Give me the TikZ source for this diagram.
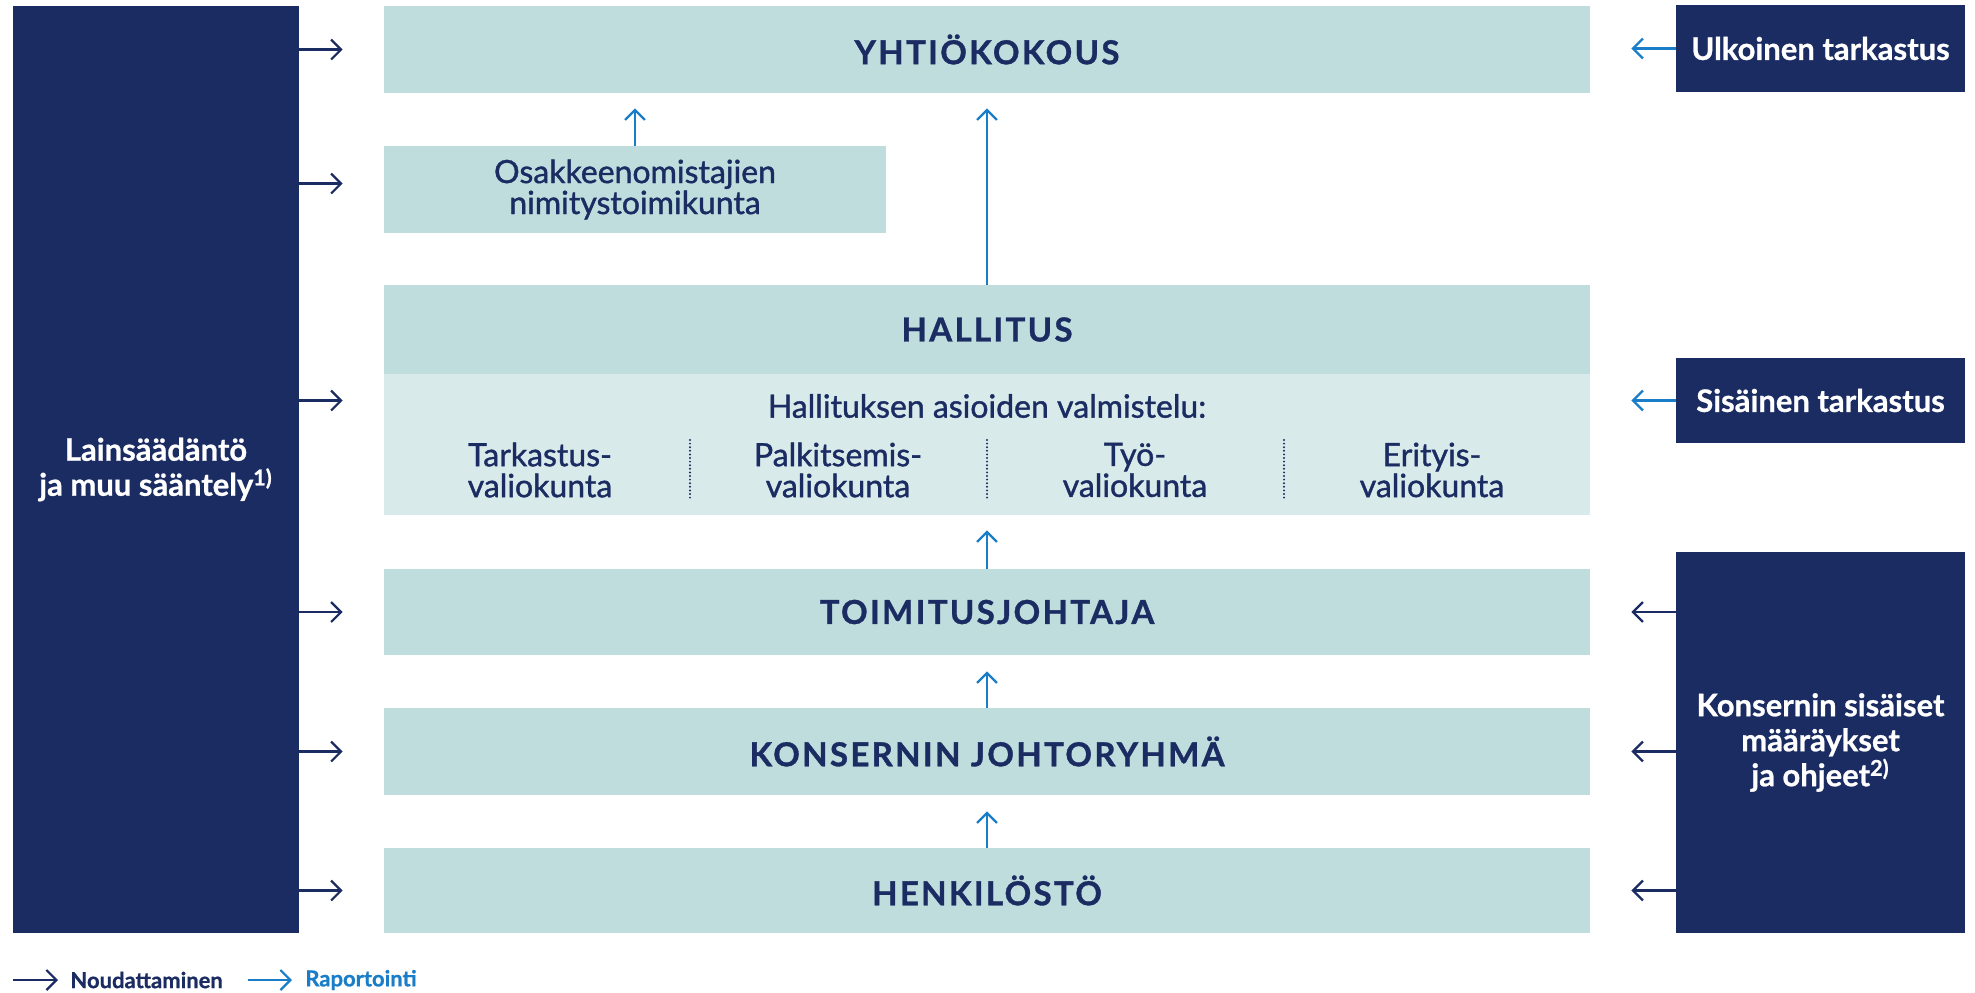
\documentclass[tikz,border=0pt]{standalone}
\usepackage{fontspec}
\setmainfont{Lato}[BoldFeatures={FakeBold=0.8}]
\newfontfamily\titlefont[LetterSpace=7, BoldFeatures={FakeBold=1}]{Lato}
\newfontfamily\medfont[FakeBold=1.2]{Lato}
\usetikzlibrary{arrows.meta}

\definecolor{navy}{HTML}{1B2C62}
\definecolor{vaalea}{HTML}{BFDDDD}
\definecolor{vaaleampi}{HTML}{D8EAEA}
\definecolor{raportti}{HTML}{1A7DC8}

\tikzset{
  elin/.style={fill=vaalea, text=navy, inner sep=0pt, minimum width=603pt,
    font=\titlefont\bfseries\fontsize{16.5}{18}\selectfont},
  ohje/.style={fill=navy, text=white, inner sep=0pt, align=center,
    font=\bfseries\fontsize{15.5}{17.5}\selectfont},
  teksti/.style={text=navy, inner sep=0pt, align=center,
    font=\medfont\fontsize{16}{15.5}\selectfont},
  noudata/.style={draw=navy, line width=1.1pt, -{Straight Barb[length=5pt,width=10pt]}},
  raportoi/.style={draw=raportti, line width=1.1pt, -{Straight Barb[length=5pt,width=10pt]}},
}

\begin{document}
\begin{tikzpicture}[x=0.5pt,y=-0.5pt]
\useasboundingbox (0,0) rectangle (1975,992);

% toimielimet
\node[elin, minimum height=43.5pt] (yk) at (987,49.5) {YHTIÖKOKOUS};
\node[elin, teksti, minimum width=251pt, minimum height=43.5pt] (nim) at (635,189.5)
  {Osakkeenomistajien\\nimitystoimikunta};
\node[elin, minimum height=44.5pt] (hal) at (987,329.5) {HALLITUS};
\node[fill=vaaleampi, inner sep=0pt, minimum width=603pt, minimum height=70.5pt] (valm) at (987,444.5) {};
\node[teksti] (valmt) at (987,406) {Hallituksen asioiden valmistelu:};
\node[teksti] (vk1) at (540,470) {Tarkastus-\\valiokunta};
\node[teksti] (vk2) at (838,470) {Palkitsemis-\\valiokunta};
\node[teksti] (vk3) at (1135,470) {Työ-\\valiokunta};
\node[teksti] (vk4) at (1432,470) {Erityis-\\valiokunta};
\node[elin, minimum height=43pt] (tj) at (987,612) {TOIMITUSJOHTAJA};
\node[elin, minimum height=43.5pt] (kj) at (987,751.5) {KONSERNIN JOHTORYHMÄ};
\node[elin, minimum height=42.5pt] (henk) at (987,890.5) {HENKILÖSTÖ};

% valiokuntien erottimet
\foreach \x in {690,987,1284}
  \draw[navy, line width=1.1pt, line cap=round, dash pattern=on 0pt off 1.8pt] (\x,440) -- (\x,498);

% sääntely ja valvonta
\node[ohje, minimum width=143pt, minimum height=463.5pt] (laki) at (156,469.5)
  {Lainsäädäntö\\ja muu sääntely\textsuperscript{1)}};
\node[ohje, minimum width=144.5pt, minimum height=43.5pt] (ulk) at (1820.5,48.5) {Ulkoinen tarkastus};
\node[ohje, minimum width=144.5pt, minimum height=42.5pt] (sis) at (1820.5,400.5) {Sisäinen tarkastus};
\node[ohje, minimum width=144.5pt, minimum height=190.5pt] (kons) at (1820.5,742.5)
  {Konsernin sisäiset\\määräykset\\ja ohjeet\textsuperscript{2)}};

% noudattaminen
\coordinate (nimw) at ([yshift=3pt]nim.west);
\foreach \n in {yk,nimw,tj,kj,henk}
  \draw[noudata, shorten >=20.5pt] (laki.east |- \n) -- (\n);
\draw[noudata, shorten >=20.5pt] (laki.east |- sis.west) -- (valm.west |- sis.west);
\foreach \n in {tj,kj,henk}
  \draw[noudata, shorten >=20.5pt] (kons.west |- \n.east) -- (\n.east);

% raportointi
\draw[raportoi, shorten >=20.5pt] (ulk.west) -- (yk.east |- ulk.west);
\draw[raportoi, shorten >=20.5pt] (sis.west) -- (valm.east |- sis.west);
\draw[raportoi, shorten >=7.5pt] (nim.north) -- (nim.north |- yk.south);
\draw[raportoi, shorten >=7.5pt] (hal.north) -- (yk.south);
\draw[raportoi, shorten >=7.5pt] (tj.north) -- (valm.south);
\draw[raportoi, shorten >=8pt] (kj.north) -- (tj.south);
\draw[raportoi, shorten >=8pt] (henk.north) -- (kj.south);

% selite
\node[text=navy, anchor=west, inner sep=0pt, font=\bfseries\fontsize{11}{12}\selectfont] (noud) at (70,980) {Noudattaminen};
\node[text=raportti, anchor=west, inner sep=0pt, font=\bfseries\fontsize{11}{12}\selectfont] (rap) at (305,980) {Raportointi};
\coordinate (s1) at (13,980);
\coordinate (s2) at (248,980);
\draw[noudata, shorten >=6pt] (s1) -- (noud.west);
\draw[raportoi, shorten >=6.5pt] (s2) -- (rap.west);

\end{tikzpicture}
\end{document}
